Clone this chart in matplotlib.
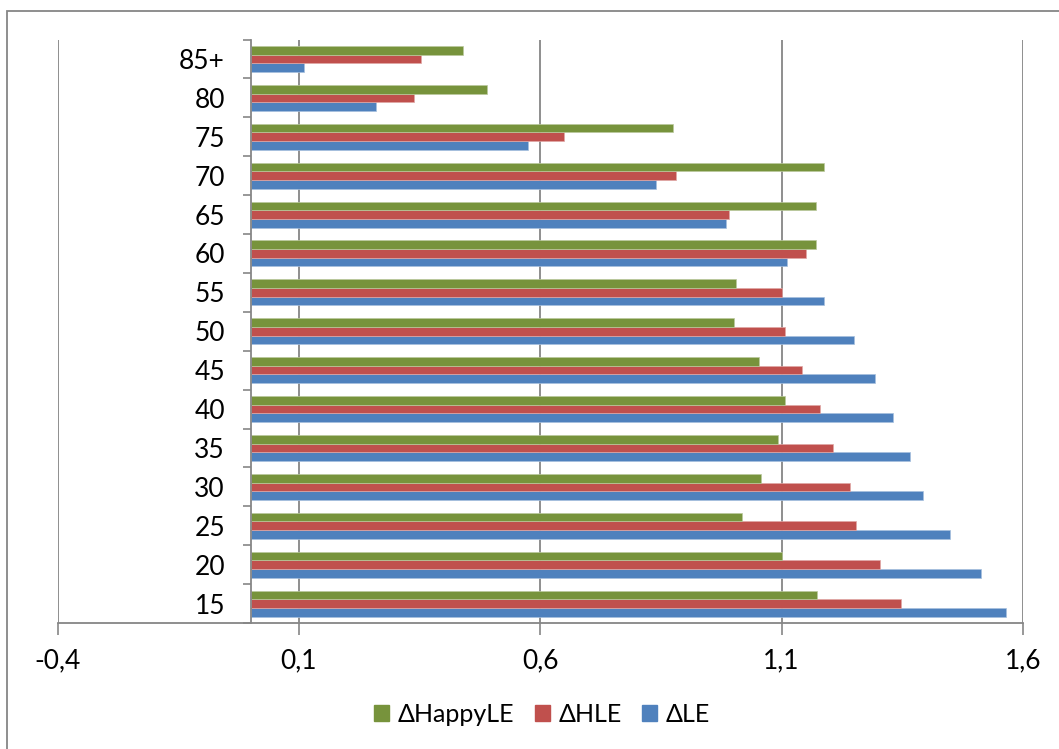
import matplotlib
matplotlib.use("Agg")
import matplotlib.pyplot as plt
import matplotlib.patches as mpatches
from matplotlib.ticker import FixedLocator, FuncFormatter
import numpy as np

plt.rcParams['font.family'] = ['Lato', 'DejaVu Sans']

# age groups, bottom to top
ages = ['15', '20', '25', '30', '35', '40', '45', '50', '55', '60', '65', '70', '75', '80', '85+']

d_le = [1.565, 1.514, 1.449, 1.393, 1.366, 1.330, 1.293, 1.250, 1.188, 1.111, 0.984, 0.839, 0.574, 0.260, 0.110]
d_hle = [1.347, 1.304, 1.254, 1.241, 1.207, 1.180, 1.143, 1.108, 1.101, 1.151, 0.992, 0.881, 0.650, 0.339, 0.352]
d_happy = [1.174, 1.100, 1.017, 1.057, 1.093, 1.106, 1.053, 1.001, 1.006, 1.171, 1.171, 1.188, 0.876, 0.490, 0.440]

x_ticks = [-0.4, 0.1, 0.6, 1.1, 1.6]

c_green = '#77933C'
c_red = '#C0504D'
c_blue = '#4F81BD'
c_grid = '#868686'
fs = 19

fig = plt.figure(figsize=(10.59, 7.49), dpi=100)
ax = fig.add_axes([57.5 / 1059, 1 - 623 / 749, (1023 - 57.5) / 1059, (623 - 39.5) / 749])

y = np.arange(len(ages))
h = 1 / 4.5
ax.barh(y - h, d_le, height=h, color=c_blue, edgecolor='#A7C0DE', linewidth=0.5, label='ΔLE', zorder=3)
ax.barh(y, d_hle, height=h, color=c_red, edgecolor='#DFA7A6', linewidth=0.5, label='ΔHLE', zorder=3)
ax.barh(y + h, d_happy, height=h, color=c_green, edgecolor='#BBC99D', linewidth=0.5, label='ΔHappyLE', zorder=3)

ax.set_xlim(-0.4, 1.6)
ax.set_ylim(-0.5, len(ages) - 0.5)

# value axis
ax.xaxis.set_major_locator(FixedLocator(x_ticks))
ax.xaxis.set_major_formatter(FuncFormatter(lambda v, p: f"{v:.1f}".replace('.', ',')))
ax.tick_params(axis='x', direction='out', length=8.5, width=1.2, color=c_grid,
               labelsize=fs, pad=10)
ax.xaxis.grid(True, color=c_grid, linewidth=1.3, zorder=1)

# category axis sits at x = 0
ax.spines['left'].set_position(('data', 0))
ax.spines['left'].set_color(c_grid)
ax.spines['left'].set_linewidth(1.3)
ax.spines['left'].set_zorder(4)
ax.set_yticks(y)
ax.set_yticklabels(ages)
ax.set_yticks(np.arange(-0.5, len(ages)), minor=True)
ax.tick_params(axis='y', which='major', length=0, labelsize=fs, pad=18.5)
ax.tick_params(axis='y', which='minor', direction='out', length=6, width=1.2, color=c_grid)

ax.spines['top'].set_visible(False)
ax.spines['right'].set_visible(False)
ax.spines['bottom'].set_color(c_grid)
ax.spines['bottom'].set_linewidth(1.3)

# legend squares without the light bar outline
handles = [mpatches.Patch(color=c) for c in (c_green, c_red, c_blue)]
fig.legend(handles, ['ΔHappyLE', 'ΔHLE', 'ΔLE'], loc='center',
           bbox_to_anchor=(542 / 1059, 1 - 714.5 / 749),
           ncol=3, frameon=False, fontsize=18, handlelength=0.6, handleheight=0.6,
           handletextpad=0.35, columnspacing=0.8, borderpad=0)

# chart border
fig.patches.append(mpatches.Rectangle((7 / 1059, -0.05), 1.1, 1 - 10.5 / 749 + 0.05,
                                      transform=fig.transFigure, fill=False,
                                      edgecolor=c_grid, linewidth=1.3))

fig.savefig('out.png', dpi=100)
